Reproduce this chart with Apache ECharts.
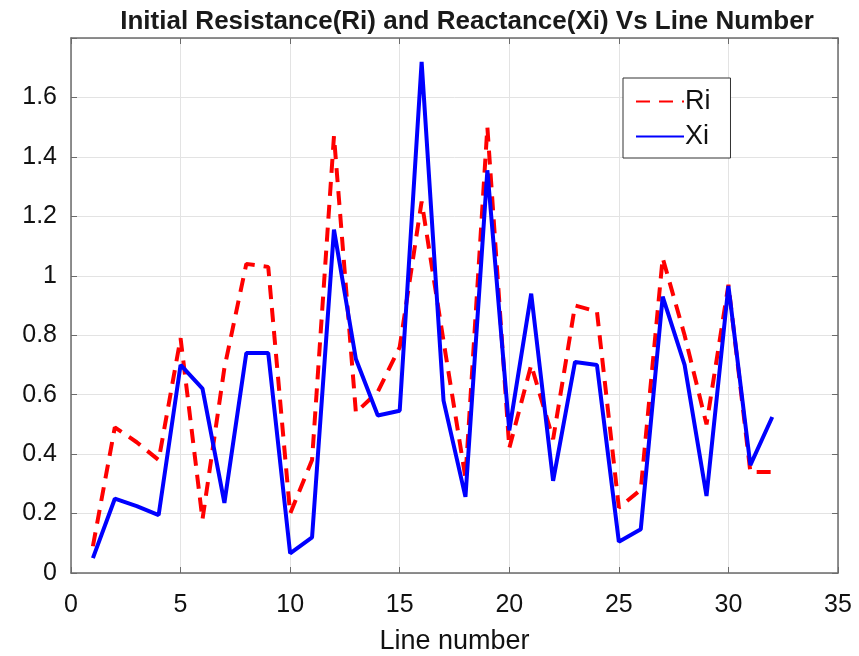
<!DOCTYPE html>
<html>
<head>
<meta charset="utf-8">
<script src="https://cdn.jsdelivr.net/npm/echarts@6/dist/echarts.min.js"></script>
<style>
  html, body { margin: 0; padding: 0; background: #fff; }
  #chart { width: 859px; height: 656px; }
</style>
</head>
<body>
<div id="chart"></div>
<script>
var lineNo = [1, 2, 3, 4, 5, 6, 7, 8, 9, 10, 11, 12, 13, 14, 15, 16,
              17, 18, 19, 20, 21, 22, 23, 24, 25, 26, 27, 28, 29, 30, 31, 32];
var ri = [0.09, 0.49, 0.44, 0.38, 0.79, 0.18, 0.69, 1.04, 1.03, 0.20, 0.38, 1.47, 0.54, 0.61, 0.76, 1.25,
          0.78, 0.32, 1.50, 0.42, 0.70, 0.45, 0.90, 0.88, 0.22, 0.28, 1.06, 0.80, 0.50, 0.97, 0.34, 0.34];
var xi = [0.05, 0.25, 0.225, 0.195, 0.70, 0.62, 0.236, 0.74, 0.74, 0.066, 0.12, 1.155, 0.72, 0.53, 0.546, 1.72,
          0.58, 0.256, 1.355, 0.48, 0.94, 0.31, 0.71, 0.70, 0.105, 0.147, 0.93, 0.70, 0.259, 0.966, 0.363, 0.525];
var yLabelMax = 1.6;

function pairs(ys) {
  return lineNo.map(function (n, i) { return [n, ys[i]]; });
}

var chart = echarts.init(document.getElementById('chart'));
var fontFam = 'Liberation Sans, Arial, sans-serif';
var axisCol = '#6b6b6b';
var gridCol = '#e3e3e3';

// shared axis look, ticks point inward like a boxed plot
function axisBase(extra) {
  return Object.assign({
    type: 'value',
    axisLine: { show: true, onZero: false, lineStyle: { color: axisCol, width: 1.5 } },
    axisTick: { show: true, inside: true, length: 6, lineStyle: { color: axisCol } },
    axisLabel: { show: false },
    splitLine: { show: false }
  }, extra);
}

var option = {
  animation: false,
  title: {
    text: 'Initial Resistance(Ri) and Reactance(Xi) Vs Line Number',
    left: 462,
    top: 4,
    textAlign: 'center',
    textStyle: { fontFamily: fontFam, fontSize: 26, fontWeight: 'bold', color: '#1a1a1a' }
  },
  grid: { left: 71, right: 21, top: 38, bottom: 83, outerBoundsMode: 'none', containLabel: false },
  legend: {
    orient: 'vertical',
    left: 623,
    top: 78,
    padding: [10, 20, 8, 12],
    itemGap: 8,
    itemWidth: 48,
    itemHeight: 14,
    borderColor: '#333',
    borderWidth: 1,
    backgroundColor: '#fff',
    itemStyle: { opacity: 0 },
    textStyle: { fontFamily: fontFam, fontSize: 27, color: '#111', padding: [0, 0, 0, -4] },
    data: ['Ri', 'Xi']
  },
  xAxis: [
    axisBase({
      min: 0,
      max: 35,
      interval: 5,
      name: 'Line number',
      nameLocation: 'middle',
      nameGap: 55,
      nameTextStyle: { fontFamily: fontFam, fontSize: 27, color: '#111' },
      axisLabel: { show: true, fontFamily: fontFam, fontSize: 25, color: '#111', margin: 20 },
      splitLine: { show: true, lineStyle: { color: gridCol, width: 1 } }
    }),
    axisBase({ position: 'top', min: 0, max: 35, interval: 5 })
  ],
  yAxis: [
    axisBase({
      min: 0,
      max: 1.8,
      interval: 0.2,
      axisLabel: {
        show: true, fontFamily: fontFam, fontSize: 25, color: '#111', margin: 14,
        formatter: function (v) {
          return v > yLabelMax + 1e-9 ? '' : String(parseFloat(v.toFixed(1)));
        }
      },
      splitLine: { show: true, lineStyle: { color: gridCol, width: 1 } }
    }),
    axisBase({ position: 'right', min: 0, max: 1.8, interval: 0.2 })
  ],
  series: [
    {
      name: 'Ri',
      type: 'line',
      symbol: 'none',
      data: pairs(ri),
      lineStyle: { color: '#ff0000', width: 4, type: [14, 9] },
      itemStyle: { color: '#ff0000' },
      z: 2
    },
    {
      name: 'Xi',
      type: 'line',
      symbol: 'none',
      data: pairs(xi),
      lineStyle: { color: '#0000ff', width: 4 },
      itemStyle: { color: '#0000ff' },
      z: 3
    }
  ]
};
chart.setOption(option);
window.addEventListener('resize', function () {
  chart.resize();
});
</script>
</body>
</html>
